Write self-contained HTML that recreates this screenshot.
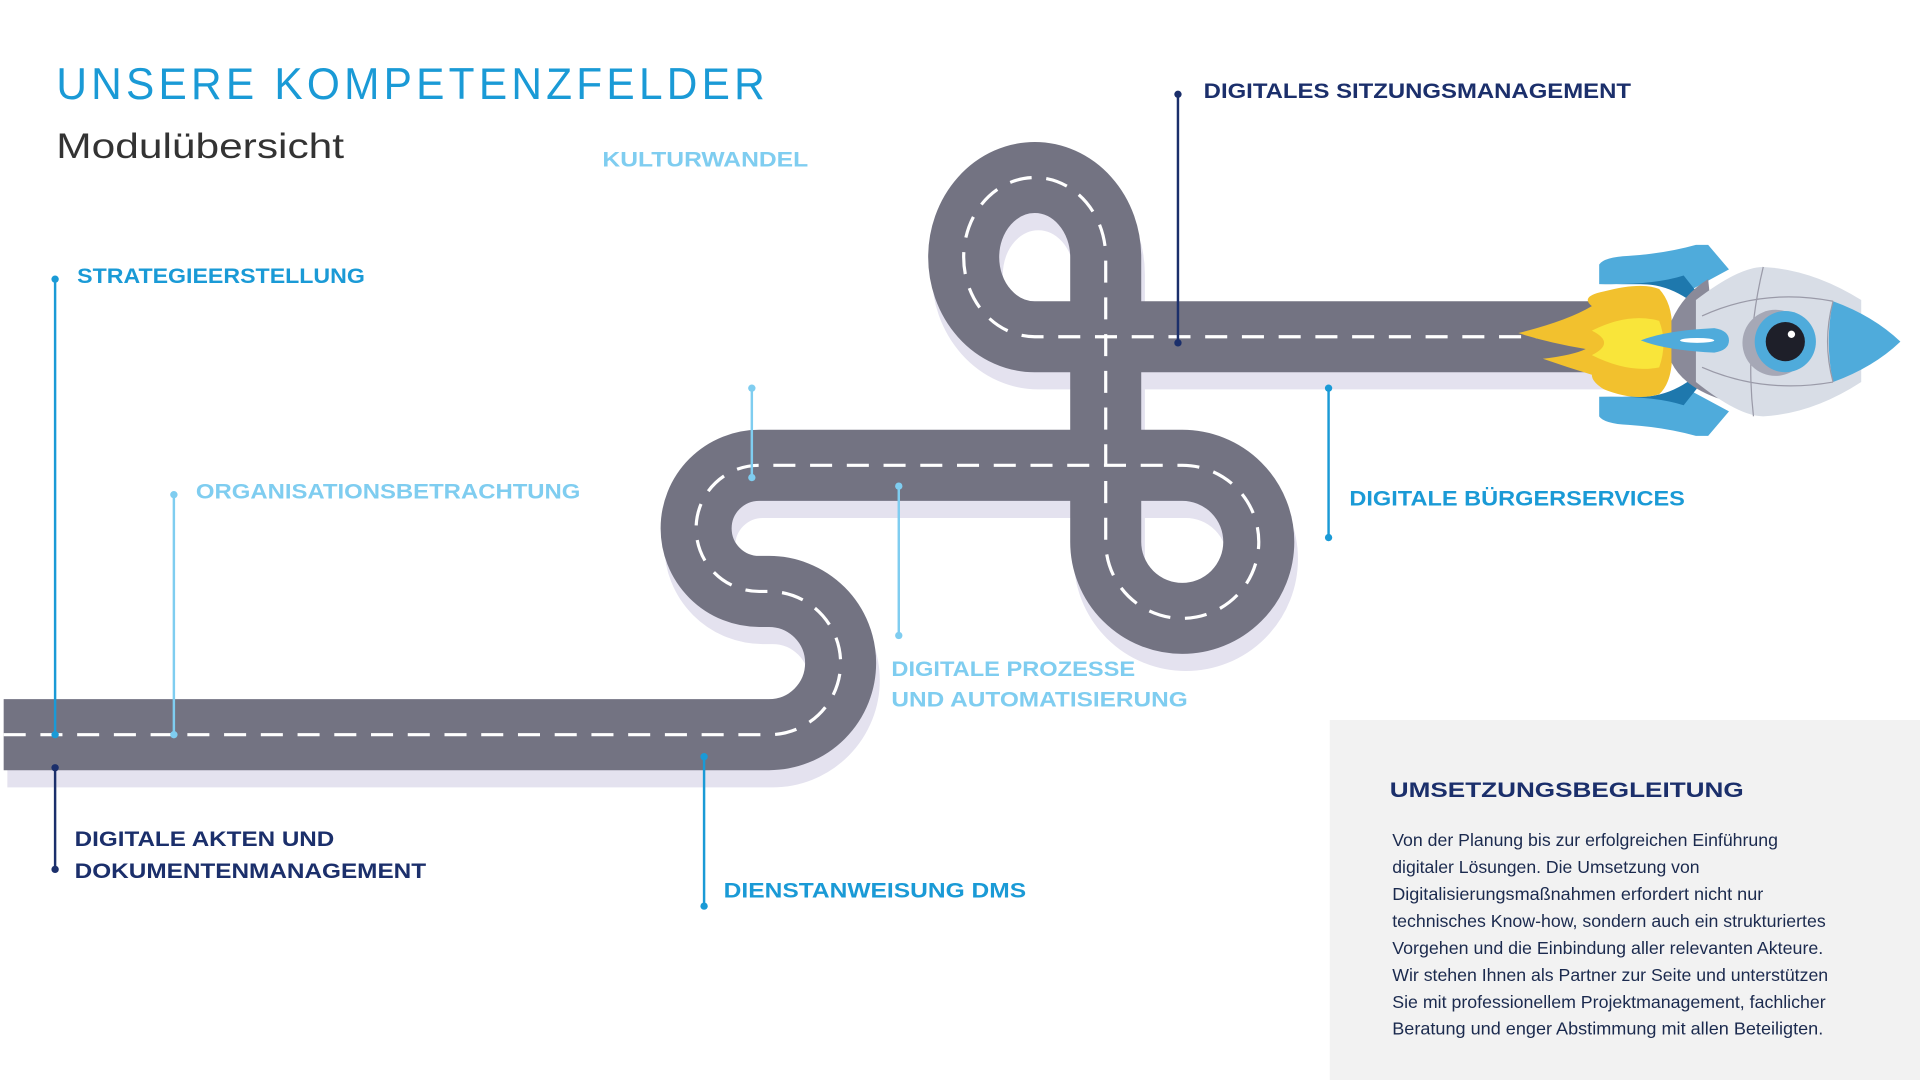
<!DOCTYPE html>
<html><head><meta charset="utf-8"><style>
html,body{margin:0;padding:0;background:#fff;width:1920px;height:1080px;overflow:hidden}
svg{display:block}
text{font-family:"Liberation Sans",sans-serif}
.b{font-weight:bold;font-size:17px}
</style></head><body>
<svg width="1920" height="1080" viewBox="0 0 1568 882" xmlns="http://www.w3.org/2000/svg">
<rect width="1568" height="882" fill="#fff"/>
<rect x="1086" y="588" width="482" height="294" fill="#f2f2f2"/>
<!-- title -->
<text x="46" y="81" font-size="36" fill="#1a9ad6" letter-spacing="3.6" textLength="582" lengthAdjust="spacingAndGlyphs">UNSERE KOMPETENZFELDER</text>
<text x="46" y="129" font-size="29" fill="#333" textLength="235" lengthAdjust="spacingAndGlyphs">Modulübersicht</text>
<!-- road -->
<g fill="none" stroke-linejoin="round">
<path transform="translate(3,14)" d="M3,600 H628 A58.5,58.5 0 0 0 628,483 H620 A51.5,51.5 0 0 1 620,380 H965.5 A62.5,62.5 0 0 1 1028,442.5 A62.5,62.5 0 0 1 965.5,505 A62.5,62.5 0 0 1 903,442.5 V210 A58,65 0 1 0 845,275 H1310" stroke="#e4e2ef" stroke-width="58"/>
<path d="M3,600 H628 A58.5,58.5 0 0 0 628,483 H620 A51.5,51.5 0 0 1 620,380 H965.5 A62.5,62.5 0 0 1 1028,442.5 A62.5,62.5 0 0 1 965.5,505 A62.5,62.5 0 0 1 903,442.5 V210 A58,65 0 1 0 845,275 H1310" stroke="#737382" stroke-width="58"/>
<path d="M3,600 H628 A58.5,58.5 0 0 0 628,483 H620 A51.5,51.5 0 0 1 620,380 H965.5 A62.5,62.5 0 0 1 1028,442.5 A62.5,62.5 0 0 1 965.5,505 A62.5,62.5 0 0 1 903,442.5 V210 A58,65 0 1 0 845,275 H1300" stroke="#fff" stroke-width="2.6" stroke-dasharray="18 12"/>
</g>
<!-- connectors -->
<g stroke-width="2">
<line x1="45" y1="228" x2="45" y2="600" stroke="#1a9ad6"/>
<line x1="142" y1="404" x2="142" y2="600" stroke="#7fcdf0"/>
<line x1="614" y1="317" x2="614" y2="390" stroke="#7fcdf0"/>
<line x1="734" y1="397" x2="734" y2="519" stroke="#7fcdf0"/>
<line x1="962" y1="77" x2="962" y2="280" stroke="#1b2f6b"/>
<line x1="1085" y1="317" x2="1085" y2="439" stroke="#1a9ad6"/>
<line x1="45" y1="627" x2="45" y2="710" stroke="#1b2f6b"/>
<line x1="575" y1="618" x2="575" y2="740" stroke="#1a9ad6"/>
</g>
<g>
<circle cx="45" cy="228" r="3" fill="#1a9ad6"/><circle cx="45" cy="600" r="3" fill="#1a9ad6"/>
<circle cx="142" cy="404" r="3" fill="#7fcdf0"/><circle cx="142" cy="600" r="3" fill="#7fcdf0"/>
<circle cx="614" cy="317" r="3" fill="#7fcdf0"/><circle cx="614" cy="390" r="3" fill="#7fcdf0"/>
<circle cx="734" cy="397" r="3" fill="#7fcdf0"/><circle cx="734" cy="519" r="3" fill="#7fcdf0"/>
<circle cx="962" cy="77" r="3" fill="#1b2f6b"/><circle cx="962" cy="280" r="3" fill="#1b2f6b"/>
<circle cx="1085" cy="317" r="3" fill="#1a9ad6"/><circle cx="1085" cy="439" r="3" fill="#1a9ad6"/>
<circle cx="45" cy="627" r="3" fill="#1b2f6b"/><circle cx="45" cy="710" r="3" fill="#1b2f6b"/>
<circle cx="575" cy="618" r="3" fill="#1a9ad6"/><circle cx="575" cy="740" r="3" fill="#1a9ad6"/>
</g>
<!-- labels -->
<text class="b" x="63" y="231" fill="#1a9ad6" textLength="235" lengthAdjust="spacingAndGlyphs">STRATEGIEERSTELLUNG</text>
<text class="b" x="492" y="136" fill="#7fcdf0" textLength="168" lengthAdjust="spacingAndGlyphs">KULTURWANDEL</text>
<text class="b" x="160" y="407" fill="#7fcdf0" textLength="314" lengthAdjust="spacingAndGlyphs">ORGANISATIONSBETRACHTUNG</text>
<text class="b" x="983" y="80" fill="#1b2f6b" textLength="349" lengthAdjust="spacingAndGlyphs">DIGITALES SITZUNGSMANAGEMENT</text>
<text class="b" x="1102" y="413" fill="#1a9ad6" textLength="274" lengthAdjust="spacingAndGlyphs">DIGITALE BÜRGERSERVICES</text>
<text class="b" x="728" y="552" fill="#7fcdf0" textLength="199" lengthAdjust="spacingAndGlyphs">DIGITALE PROZESSE</text>
<text class="b" x="728" y="577" fill="#7fcdf0" textLength="242" lengthAdjust="spacingAndGlyphs">UND AUTOMATISIERUNG</text>
<text class="b" x="61" y="691" fill="#1b2f6b" textLength="212" lengthAdjust="spacingAndGlyphs">DIGITALE AKTEN UND</text>
<text class="b" x="61" y="717" fill="#1b2f6b" textLength="287" lengthAdjust="spacingAndGlyphs">DOKUMENTENMANAGEMENT</text>
<text class="b" x="591" y="733" fill="#1a9ad6" textLength="247" lengthAdjust="spacingAndGlyphs">DIENSTANWEISUNG DMS</text>
<text class="b" x="1135" y="651" fill="#1b2f6b" textLength="289" lengthAdjust="spacingAndGlyphs">UMSETZUNGSBEGLEITUNG</text>
<g font-size="14" fill="#1b2a4e">
<text x="1137" y="691" textLength="315" lengthAdjust="spacingAndGlyphs">Von der Planung bis zur erfolgreichen Einführung</text>
<text x="1137" y="713" textLength="251" lengthAdjust="spacingAndGlyphs">digitaler Lösungen. Die Umsetzung von</text>
<text x="1137" y="735" textLength="303" lengthAdjust="spacingAndGlyphs">Digitalisierungsmaßnahmen erfordert nicht nur</text>
<text x="1137" y="757" textLength="354" lengthAdjust="spacingAndGlyphs">technisches Know-how, sondern auch ein strukturiertes</text>
<text x="1137" y="779" textLength="352" lengthAdjust="spacingAndGlyphs">Vorgehen und die Einbindung aller relevanten Akteure.</text>
<text x="1137" y="801" textLength="356" lengthAdjust="spacingAndGlyphs">Wir stehen Ihnen als Partner zur Seite und unterstützen</text>
<text x="1137" y="823" textLength="354" lengthAdjust="spacingAndGlyphs">Sie mit professionellem Projektmanagement, fachlicher</text>
<text x="1137" y="845" textLength="352" lengthAdjust="spacingAndGlyphs">Beratung und enger Abstimmung mit allen Beteiligten.</text>
</g>
<!-- rocket -->
<g>
<path d="M1306,216 Q1310,210 1330,209 Q1360,207 1385,200 L1395,200 L1412,220 L1375,240 Q1360,232 1340,232 L1306,232 Z" fill="#4fabdb"/>
<path d="M1306,232 L1340,232 Q1360,232 1378,244 L1390,244 L1375,225 Q1350,233 1306,232 Z" fill="#1e78ad"/>
<path d="M1306,340 Q1310,346 1330,347 Q1360,349 1385,356 L1395,356 L1412,336 L1375,316 Q1360,324 1340,324 L1306,324 Z" fill="#4fabdb"/>
<path d="M1306,324 L1340,324 Q1360,324 1378,312 L1390,312 L1375,331 Q1350,323 1306,324 Z" fill="#1e78ad"/>
<path d="M1240,272 Q1280,262 1300,250 Q1290,242 1310,238 Q1340,230 1355,236 Q1368,250 1365,278 Q1368,310 1355,322 Q1335,328 1310,318 Q1300,312 1300,306 Q1280,300 1260,293 Q1285,290 1295,285 Q1265,280 1240,272 Z" fill="#f2c12e"/>
<path d="M1300,270 Q1330,255 1355,262 Q1362,280 1355,300 Q1330,305 1300,290 Q1320,280 1300,270 Z" fill="#f9e53a"/>
<path d="M1365,262 Q1375,240 1395,228 L1405,326 Q1375,316 1365,296 Z" fill="#8a8a99"/>
<path d="M1385,245 Q1420,218 1440,218 Q1480,220 1520,245 L1520,312 Q1480,338 1440,340 Q1420,340 1385,312 Z" fill="#d8dde6"/>
<path d="M1497,246 Q1530,258 1552,279 Q1530,300 1497,312 Q1490,279 1497,246 Z" fill="#4fabdb"/>
<path d="M1440,218 Q1425,280 1432,340 M1497,246 Q1488,279 1497,312 M1390,258 Q1440,235 1497,246 M1390,300 Q1440,322 1497,312" stroke="#9a9aa8" stroke-width="1" fill="none"/>
<ellipse cx="1450" cy="280" rx="27" ry="27" fill="#a6a8b6"/>
<circle cx="1458" cy="279" r="25" fill="#4fabdb"/>
<circle cx="1458" cy="279" r="16" fill="#1e1f29"/>
<circle cx="1463" cy="273" r="3" fill="#fff"/>
<path d="M1340,278 Q1360,270 1400,268 Q1412,270 1412,278 Q1412,286 1400,288 Q1360,286 1340,278 Z" fill="#4fabdb"/>
<ellipse cx="1386" cy="278" rx="14" ry="2" fill="#fff"/>
</g>
</svg>
</body></html>
